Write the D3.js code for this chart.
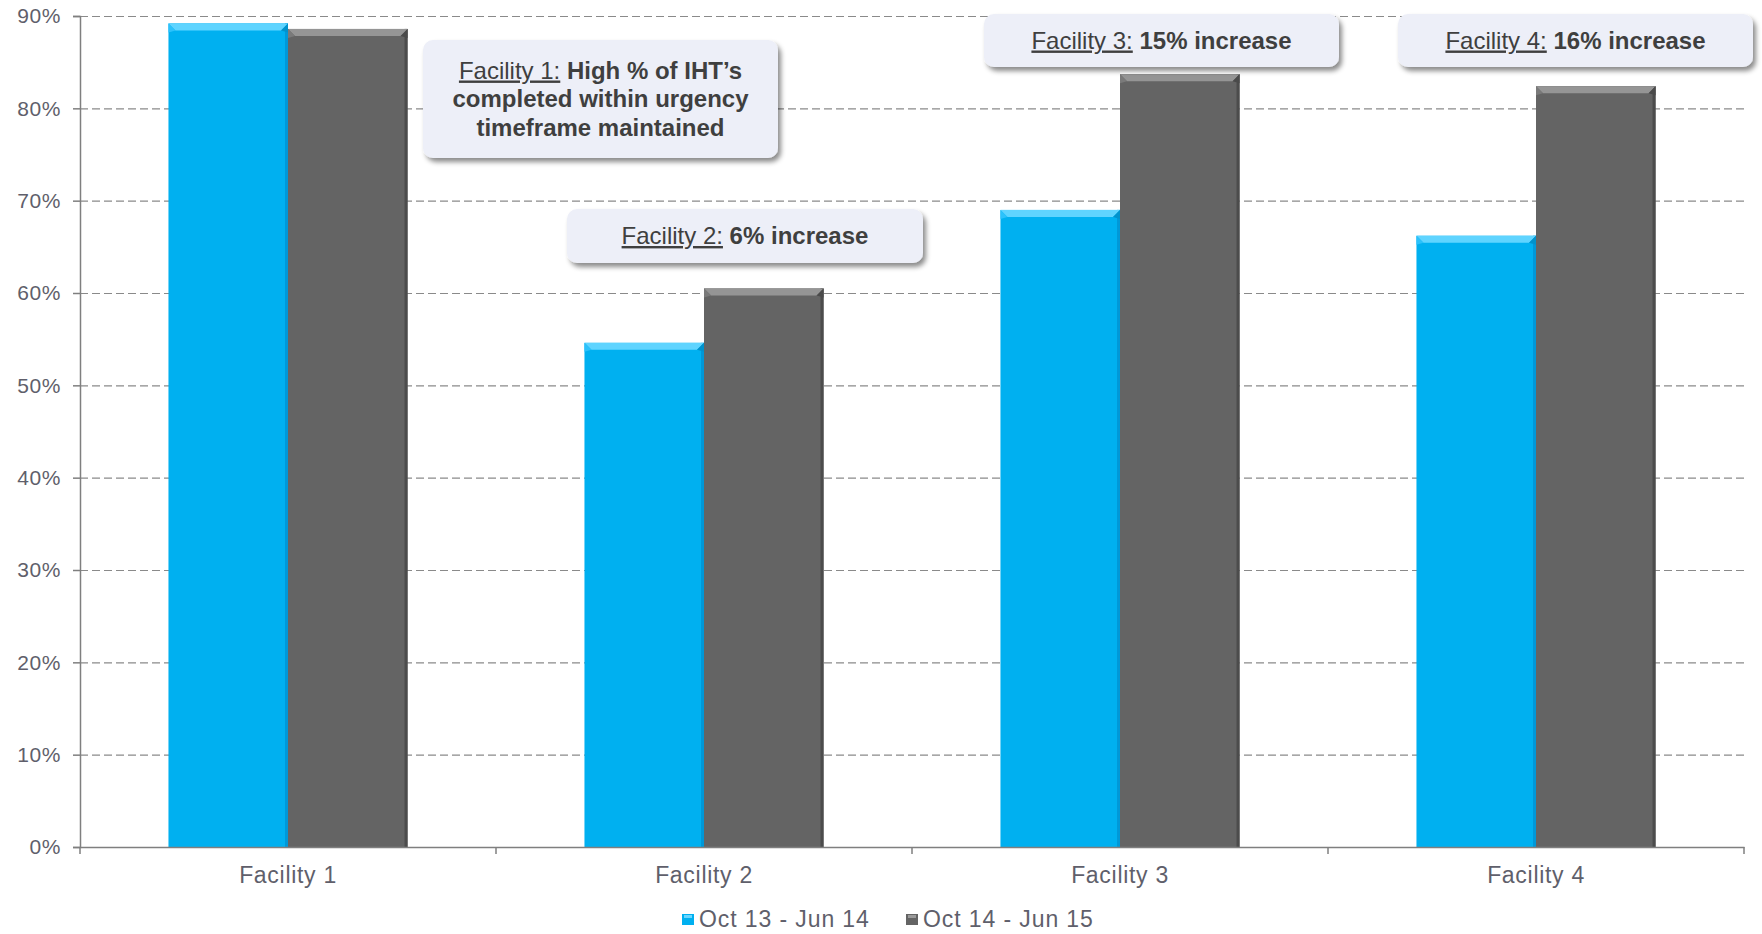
<!DOCTYPE html>
<html><head><meta charset="utf-8">
<script src="https://cdn.jsdelivr.net/npm/d3@7"></script>
<style>body{margin:0;background:#fff}svg{display:block}</style>
</head><body>
<script>
const categories = ["Facility 1","Facility 2","Facility 3","Facility 4"];
const seriesNames = ["Oct 13 - Jun 14","Oct 14 - Jun 15"];
const series1 = [89.2, 54.6, 69.0, 66.2];
const series2 = [88.6, 60.5, 83.7, 82.4];
const yTicks = [0,10,20,30,40,50,60,70,80,90];
const annotations = [
  {cat:"Facility 1", lines:[["Facility 1:"," High % of IHT’s"],["","completed within urgency"],["","timeframe maintained"]]},
  {cat:"Facility 2", lines:[["Facility 2:"," 6% increase"]]},
  {cat:"Facility 3", lines:[["Facility 3:"," 15% increase"]]},
  {cat:"Facility 4", lines:[["Facility 4:"," 16% increase"]]}
];
const colors = ["#00B0F0","#646464"];

(function(){
const W=1762,H=934;
const mL=80,mR=1744,mT=16,mB=847;
const svg=d3.select("body").append("svg").attr("width",W).attr("height",H)
  .style("font-family","'Liberation Sans',Arial,sans-serif");
const defs=svg.append("defs");
const f=defs.append("filter").attr("id","sh").attr("x","-10%").attr("y","-20%").attr("width","130%").attr("height","160%");
f.append("feDropShadow").attr("dx",3).attr("dy",4).attr("stdDeviation",2.5).attr("flood-color","#000").attr("flood-opacity",0.45);

const y=d3.scaleLinear().domain([0,90]).range([mB,mT]);
const x0=d3.scaleBand().domain(categories).range([mL,mR]).padding(0);
const x1=d3.scaleBand().domain([0,1]).range([0,x0.bandwidth()]).paddingInner(0).paddingOuter(0.74);

// gridlines
svg.append("g").selectAll("line").data(yTicks.filter(t=>t>0)).join("line")
  .attr("x1",mL).attr("x2",mR).attr("y1",d=>y(d)+0.5).attr("y2",d=>y(d)+0.5)
  .attr("stroke","#8a8a8a").attr("stroke-width",1.2).attr("stroke-dasharray","8,4");

// y axis
const yAxis=d3.axisLeft(y).tickValues(yTicks).tickFormat(d=>d+"%").tickSize(7).tickPadding(12);
const ya=svg.append("g").attr("transform",`translate(${mL},0)`).call(yAxis);
ya.select(".domain").attr("stroke","#7f7f7f").attr("stroke-width",1.5);
ya.selectAll(".tick line").attr("stroke","#7f7f7f").attr("stroke-width",1.5);
ya.selectAll(".tick text").attr("fill","#5f5f6b").style("font-size","21px").style("letter-spacing","0.6px");

// bars
const data=categories.map((c,i)=>({cat:c,vals:[series1[i],series2[i]]}));
const g=svg.append("g");
data.forEach(d=>{
  d.vals.forEach((v,j)=>{
    const bx=x0(d.cat)+x1(j), bw=x1.bandwidth(), by=y(v), bh=mB-by;
    const gg=g.append("g");
    gg.append("rect").attr("x",bx).attr("y",by).attr("width",bw).attr("height",bh).attr("fill",colors[j]);
    gg.append("rect").attr("x",bx+bw-3).attr("y",by).attr("width",3).attr("height",bh)
      .attr("fill",j===0?"#0098d8":"#4c4c4c");
    const bev=7;
    gg.append("path").attr("d",`M${bx},${by}L${bx+bw},${by}L${bx+bw-bev},${by+bev}L${bx+bev},${by+bev}Z`)
      .attr("fill",j===0?"#5fd4ff":"#959595");
    gg.append("path").attr("d",`M${bx},${by}L${bx+bev},${by+bev}L${bx},${by+bev+2}Z`).attr("fill",j===0?"#2cc2fb":"#7a7a7a");
    gg.append("path").attr("d",`M${bx+bw},${by}L${bx+bw-bev},${by+bev}L${bx+bw},${by+bev+2}Z`).attr("fill",j===0?"#0092cc":"#4a4a4a");
  });
});

// x axis
const xAxis=d3.axisBottom(x0).tickSize(0).tickPadding(20);
const xa=svg.append("g").attr("transform",`translate(0,${mB})`).call(xAxis);
xa.select(".domain").attr("stroke","#7f7f7f").attr("stroke-width",1.5);
xa.selectAll(".tick text").attr("fill","#5f5f6b").style("font-size","23px").style("letter-spacing","0.7px");
svg.append("g").selectAll("line").data(d3.range(categories.length+1)).join("line")
  .attr("x1",i=>mL+i*x0.step()).attr("x2",i=>mL+i*x0.step())
  .attr("y1",mB).attr("y2",mB+7).attr("stroke","#7f7f7f").attr("stroke-width",1.5);

// annotations
const boxes={"Facility 1":[423,40,355,118],"Facility 2":[567,209,356,54],"Facility 3":[984,14,355,53],"Facility 4":[1398,14,355,53]};
annotations.forEach(a=>{
  const [bx,by,bw,bh]=boxes[a.cat];
  const ag=svg.append("g");
  ag.append("rect").attr("x",bx).attr("y",by).attr("width",bw).attr("height",bh).attr("rx",10)
    .attr("fill","#edeff8").attr("filter","url(#sh)");
  const n=a.lines.length, lh=28.5;
  const cy=by+bh/2 - (n-1)*lh/2 + 8;
  a.lines.forEach((ln,k)=>{
    const t=ag.append("text").attr("x",bx+bw/2).attr("y",cy+k*lh).attr("text-anchor","middle")
      .attr("fill","#3f3f3f").style("font-size","24px");
    if(ln[0]) t.append("tspan").text(ln[0]).attr("text-decoration","underline");
    t.append("tspan").text(ln[1]).attr("font-weight","bold").style("white-space","pre");
  });
});

// legend
const leg=svg.append("g").style("font-size","23px").style("letter-spacing","0.9px");
const legX=[682,906];
seriesNames.forEach((s,i)=>{
  leg.append("rect").attr("x",legX[i]).attr("y",914).attr("width",12).attr("height",11).attr("fill",colors[i]);
  leg.append("rect").attr("x",legX[i]+2).attr("y",915).attr("width",8).attr("height",3).attr("fill",i===0?"#6ad6ff":"#9a9a9a");
  leg.append("text").attr("x",legX[i]+17).attr("y",927).attr("fill","#5f5f6b").text(s);
});
})();
</script>
</body></html>
